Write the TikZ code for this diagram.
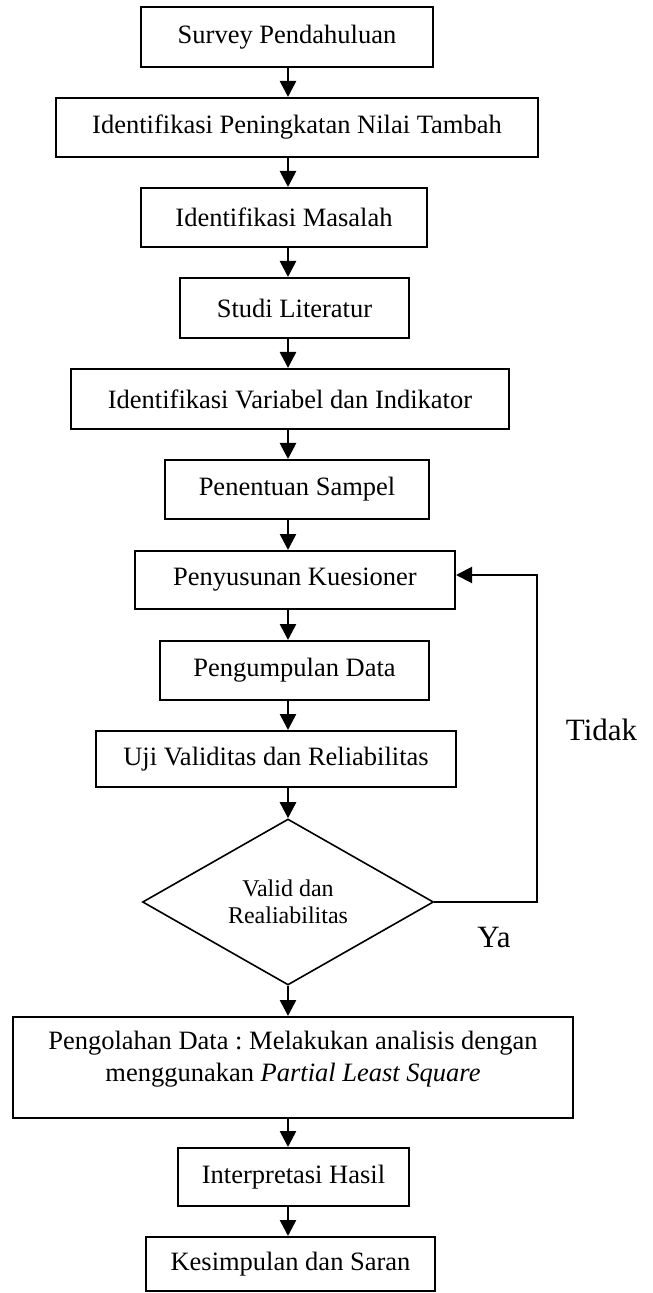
\documentclass[tikz,border=0pt]{standalone}
\usepackage{fontspec}
\setmainfont{Liberation Serif}
\usetikzlibrary{arrows.meta,shapes.geometric}
\frenchspacing
\begin{document}
\begin{tikzpicture}[x=0.5pt,y=-0.5pt,
  boxnode/.style={draw,line width=1pt,rectangle,inner sep=0pt,font=\fontsize{13.25}{16}\selectfont},
  decnode/.style={draw,line width=0.8pt,diamond,inner sep=0pt,align=center,font=\fontsize{12}{13.5}\selectfont},
  flow/.style={line width=1.3pt,-{Triangle[length=8pt,width=8pt]}},
  feedback/.style={line width=1pt,-{Triangle[length=8pt,width=8pt]}},
  lbl/.style={inner sep=0pt,anchor=base,font=\fontsize{15.5}{18}\selectfont}]
\useasboundingbox (0,0) rectangle (652,1293);
\coordinate (spine) at (288,0);
\node[boxnode,minimum width=146pt,minimum height=30pt] (survey) at (287,37) {Survey Pendahuluan};
\node[boxnode,minimum width=241pt,minimum height=29.5pt] (nilai) at (297,127.5) {Identifikasi Peningkatan Nilai Tambah};
\node[boxnode,minimum width=143pt,minimum height=29.5pt] (masalah) at (284,217.5) {Identifikasi Masalah};
\node[boxnode,minimum width=114.5pt,minimum height=30pt] (studi) at (294.5,308) {Studi Literatur};
\node[boxnode,minimum width=219pt,minimum height=30pt] (variabel) at (290,399) {Identifikasi Variabel dan Indikator};
\node[boxnode,minimum width=132pt,minimum height=29.5pt] (sampel) at (297,489.5) {Penentuan Sampel};
\node[boxnode,minimum width=160pt,minimum height=29pt] (kuesioner) at (295,580) {Penyusunan Kuesioner};
\node[boxnode,minimum width=134.5pt,minimum height=29.5pt] (data) at (294.5,670.5) {Pengumpulan Data};
\node[boxnode,minimum width=180pt,minimum height=28pt] (uji) at (276,759) {Uji Validitas dan Reliabilitas};
\node[decnode,minimum width=145.5pt,minimum height=83pt] (valid) at (288,902) {Valid dan\\Realiabilitas};
\node[boxnode,minimum width=280pt,minimum height=50.5pt] (olah) at (293,1067.5) {};
\node[inner sep=0pt,align=center,font=\fontsize{13.25}{16}\selectfont] (olahtext) at (293,1059) {Pengolahan Data : Melakukan analisis dengan\\menggunakan \textit{Partial Least Square}};
\node[boxnode,minimum width=115.5pt,minimum height=29pt] (interp) at (293.5,1177) {Interpretasi Hasil};
\node[boxnode,minimum width=144.5pt,minimum height=27pt] (simpul) at (290.5,1264) {Kesimpulan dan Saran};
\coordinate (fb) at (537,575);
\node[lbl] (tidak) at (601.5,740) {Tidak};
\node[lbl] (ya) at (494,947) {Ya};
\draw[flow] (survey.south -| spine) -- (nilai.north -| spine);
\draw[flow] (nilai.south -| spine) -- (masalah.north -| spine);
\draw[flow] (masalah.south -| spine) -- (studi.north -| spine);
\draw[flow] (studi.south -| spine) -- (variabel.north -| spine);
\draw[flow] (variabel.south -| spine) -- (sampel.north -| spine);
\draw[flow] (sampel.south -| spine) -- (kuesioner.north -| spine);
\draw[flow] (kuesioner.south -| spine) -- (data.north -| spine);
\draw[flow] (data.south -| spine) -- (uji.north -| spine);
\draw[flow] (uji.south -| spine) -- (valid.north);
\draw[flow] (valid.south) -- (olah.north -| spine);
\draw[flow] (olah.south -| spine) -- (interp.north -| spine);
\draw[flow] (interp.south -| spine) -- (simpul.north -| spine);
\draw[feedback] (valid.east) -| (fb) -- (kuesioner.east |- fb);
\end{tikzpicture}
\end{document}
